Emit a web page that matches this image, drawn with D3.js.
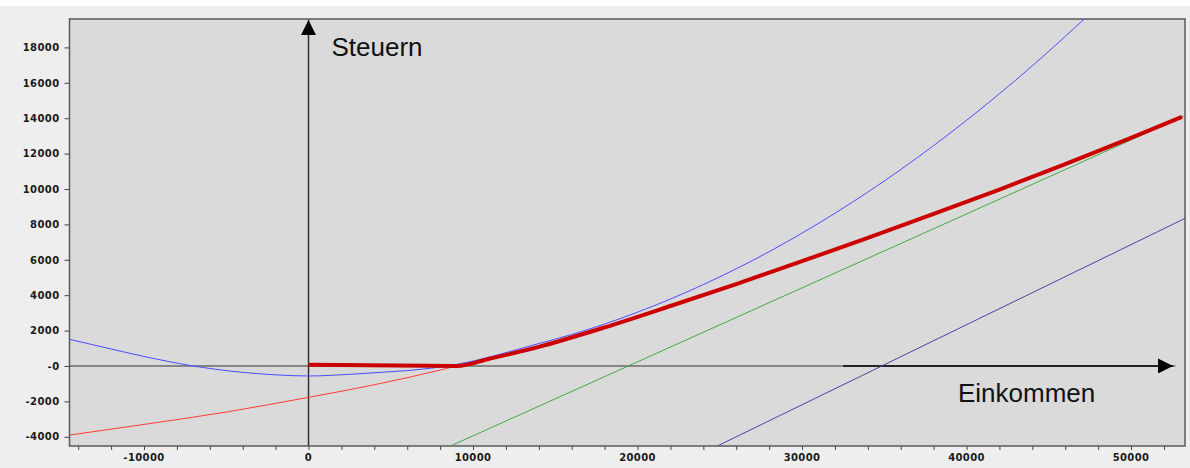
<!DOCTYPE html>
<html>
<head>
<meta charset="utf-8">
<script src="https://cdn.jsdelivr.net/npm/d3@7"></script>
<style>
  html, body { margin: 0; padding: 0; background: #ffffff; }
  svg { display: block; }
  .tick-label { font-family: "DejaVu Sans", Verdana, sans-serif; font-weight: bold; font-size: 10px; letter-spacing: 0.4px; fill: #1a1a1a; }
  .axis-title { font-family: "Liberation Sans", Arial, sans-serif; font-size: 26px; fill: #111; }
</style>
</head>
<body>
<div id="chart"></div>
<script>
// values: [Einkommen, Steuern]
const xTickValues = [-10000, 0, 10000, 20000, 30000, 40000, 50000];
const xTickLabels = ["-10000", "0", "10000", "20000", "30000", "40000", "50000"];
const yTickValues = [-4000, -2000, 0, 2000, 4000, 6000, 8000, 10000, 12000, 14000, 16000, 18000];
const yTickLabels = ["-4000", "-2000", "-0", "2000", "4000", "6000", "8000", "10000", "12000", "14000", "16000", "18000"];

const blueParabola = [
  [-14500, 1500], [-12000, 960], [-10000, 540], [-7000, 0], [-4000, -360], [-2000, -500],
  [0, -565], [2500, -470], [5000, -320], [6000, -260], [7000, -170], [8000, -60],
  [9000, 90], [10000, 280], [11500, 630], [14000, 1270], [16000, 1780], [20000, 3040],
  [24000, 4600], [28000, 6460], [32000, 8630], [36000, 11100], [40000, 13880],
  [44000, 16960], [47500, 19900]
];
const redThin = [
  [-14500, -3900], [-10000, -3300], [-5000, -2600], [0, -1770], [4000, -1060],
  [8000, -230], [9000, 0], [10000, 200]
];
const greenLine = [[8600, -4530], [53300, 14150]];
const navyLine = [[24850, -4520], [53300, 8350]];
const taxCurve = [
  [0, 70], [9000, 0], [11000, 410], [14000, 1080], [18000, 2180], [22000, 3390],
  [26000, 4630], [30000, 5920], [34000, 7240], [38000, 8590], [42000, 9970],
  [46000, 11400], [50000, 12890], [53100, 14080]
];

const width = 1190,
      height = 468;
const plot = { left: 69.5, top: 19, right: 1185, bottom: 446 };

const x = d3.scaleLinear().domain([-14530, 53280]).range([plot.left, plot.right]);
const y = d3.scaleLinear().domain([-4520, 19605]).range([plot.bottom, plot.top]);

const svg = d3.select("#chart")
  .append("svg")
  .attr("width", width)
  .attr("height", height);

// page and plot background
svg.append("rect").attr("x", 0).attr("y", 6).attr("width", width).attr("height", height - 6).attr("fill", "#eeeeee");
svg.append("rect")
  .attr("x", plot.left).attr("y", plot.top)
  .attr("width", plot.right - plot.left).attr("height", plot.bottom - plot.top)
  .attr("fill", "#dadada");

const defs = svg.append("defs");
defs.append("clipPath").attr("id", "clip")
  .append("rect")
  .attr("x", plot.left).attr("y", plot.top)
  .attr("width", plot.right - plot.left).attr("height", plot.bottom - plot.top);

defs.append("marker")
  .attr("id", "arrow")
  .attr("viewBox", "0 0 10 10")
  .attr("refX", 10).attr("refY", 5)
  .attr("markerWidth", 15).attr("markerHeight", 15)
  .attr("markerUnits", "userSpaceOnUse")
  .attr("orient", "auto")
  .append("path")
  .attr("d", "M0,0 L10,5 L0,10 Z")
  .attr("fill", "#000");

// y ticks
svg.append("g")
  .attr("transform", `translate(${plot.left},0)`)
  .call(d3.axisLeft(y).tickValues(yTickValues).tickSize(5).tickPadding(5)
    .tickFormat((d, i) => yTickLabels[i]))
  .call(g => g.select(".domain").remove())
  .call(g => g.selectAll("line").attr("stroke", "#444"))
  .call(g => g.selectAll("text").attr("class", "tick-label").attr("font-family", null).attr("font-size", null));

// x minor + major ticks
const xMinor = d3.range(-14000, 52001, 2000);
svg.append("g")
  .attr("transform", `translate(0,${plot.bottom})`)
  .call(d3.axisBottom(x).tickValues(xMinor).tickSize(4).tickFormat(""))
  .call(g => g.select(".domain").remove())
  .call(g => g.selectAll("line").attr("stroke", "#444"));

svg.append("g")
  .selectAll("text")
  .data(xTickValues)
  .join("text")
  .attr("class", "tick-label")
  .attr("x", d => x(d))
  .attr("y", 461)
  .attr("text-anchor", "middle")
  .text((d, i) => xTickLabels[i]);

// frame
svg.append("rect")
  .attr("x", plot.left).attr("y", plot.top)
  .attr("width", plot.right - plot.left).attr("height", plot.bottom - plot.top)
  .attr("fill", "none")
  .attr("stroke", "#5a5a5a")
  .attr("stroke-width", 1.5);

// zero line and axis arrows
svg.append("line")
  .attr("x1", plot.left).attr("x2", x(52700))
  .attr("y1", y(0)).attr("y2", y(0))
  .attr("stroke", "#333").attr("stroke-width", 1);

svg.append("line")
  .attr("x1", x(32500)).attr("x2", 1173)
  .attr("y1", y(0)).attr("y2", y(0))
  .attr("stroke", "#000").attr("stroke-width", 1.5)
  .attr("marker-end", "url(#arrow)");

svg.append("line")
  .attr("x1", x(0)).attr("x2", x(0))
  .attr("y1", plot.bottom).attr("y2", 20)
  .attr("stroke", "#333").attr("stroke-width", 1.5)
  .attr("marker-end", "url(#arrow)");

// curves
const line = d3.line()
  .x(d => x(d[0]))
  .y(d => y(d[1]))
  .curve(d3.curveMonotoneX);

const curves = svg.append("g").attr("clip-path", "url(#clip)");

const series = [
  { data: blueParabola, color: "#4d4dff", w: 1 },
  { data: redThin, color: "#ff3b3b", w: 1 },
  { data: greenLine, color: "#45a845", w: 1 },
  { data: navyLine, color: "#4646a8", w: 1 },
  { data: taxCurve, color: "#cc0000", w: 4 }
];

curves.selectAll("path")
  .data(series)
  .join("path")
  .attr("d", d => line(d.data))
  .attr("fill", "none")
  .attr("stroke", d => d.color)
  .attr("stroke-width", d => d.w)
  .attr("stroke-linejoin", "round");

// axis titles
svg.append("text").attr("class", "axis-title").attr("x", 331.5).attr("y", 56).text("Steuern");
svg.append("text").attr("class", "axis-title").attr("x", 958).attr("y", 402).text("Einkommen");
</script>
</body>
</html>
